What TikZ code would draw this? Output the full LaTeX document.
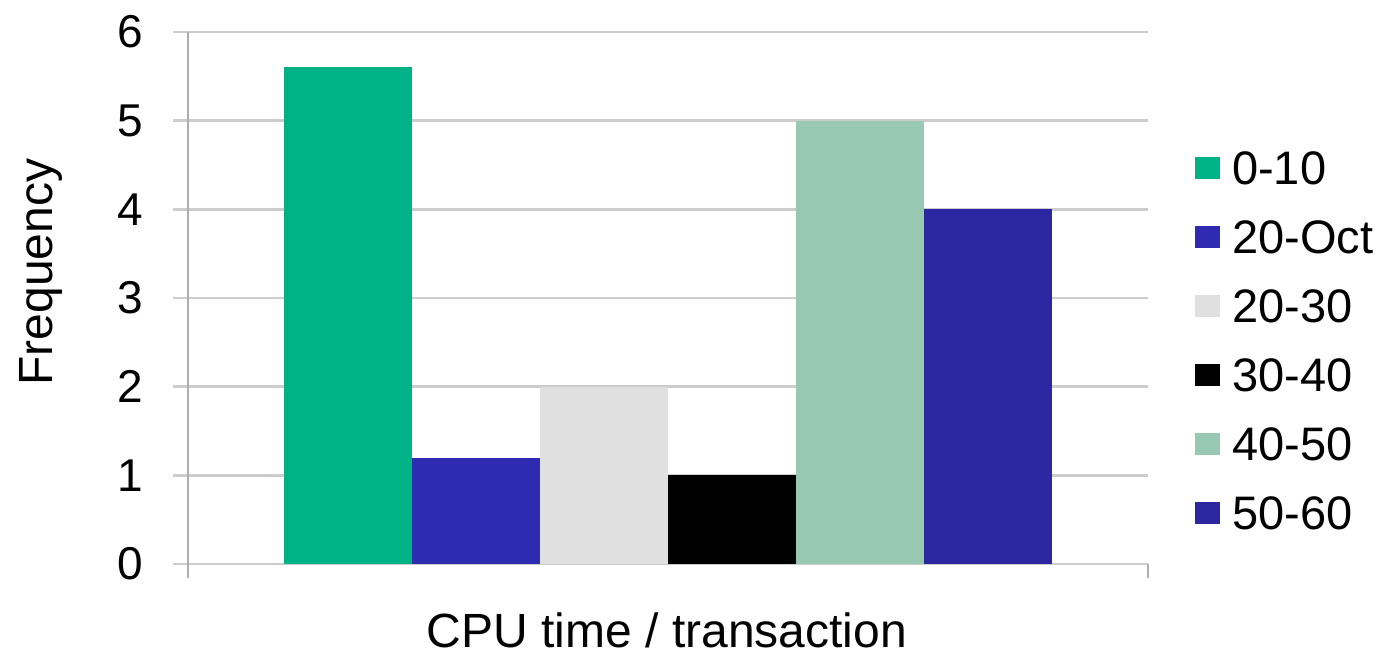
\documentclass[tikz,border=0pt]{standalone}
\usepackage{fontspec}
\setmainfont{Liberation Sans}
\definecolor{binA}{RGB}{0,179,134}
\definecolor{binB}{RGB}{46,43,178}
\definecolor{binC}{RGB}{224,224,224}
\definecolor{binD}{RGB}{0,0,0}
\definecolor{binE}{RGB}{152,200,178}
\definecolor{binF}{RGB}{42,39,160}
\definecolor{gridgray}{RGB}{205,205,205}
\tikzset{
  gridline/.style={draw=gridgray, line width=2.5pt},
  axisline/.style={draw=gridgray!85!black, line width=2pt},
  ticklabel/.style={anchor=east, inner sep=0pt, font=\fontsize{46}{52}\selectfont},
  legendtext/.style={anchor=west, inner sep=0pt, font=\fontsize{47}{52}\selectfont},
  titletext/.style={inner sep=0pt, font=\fontsize{48}{56}\selectfont},
  swatch/.style={minimum width=25pt, minimum height=22pt, inner sep=0pt, draw=none},
}
\begin{document}
\begin{tikzpicture}[x=1pt, y=-1pt]
  \useasboundingbox (0,0) rectangle (1382,656);
  % horizontal grid lines with tick labels
  \foreach \v in {0,...,6} {
    \pgfmathsetmacro{\yy}{564-\v*88.67}
    \draw[gridline] (173,\yy) -- (1148,\yy);
    \node[ticklabel] (tick\v) at (143,\yy) {\v};
  }
  % vertical axis and right end tick
  \draw[axisline] (188,32) -- (188,578);
  \draw[axisline] (1148,564) -- (1148,578);
  % bars
  \def\bar#1#2#3{\fill[#3] (#1,564) rectangle (#1+128,564-#2*88.67);}
  \bar{284}{5.6}{binA}
  \bar{412}{1.2}{binB}
  \bar{540}{2}{binC}
  \bar{668}{1}{binD}
  \bar{796}{5}{binE}
  \bar{924}{4}{binF}
  % legend
  \foreach \c/\t [count=\i from 0] in {binA/0-10, binB/20-Oct, binC/20-30, binD/30-40, binE/40-50, binF/50-60} {
    \node[swatch, fill=\c] (sw\i) at (1207.5,168+\i*69) {};
    \node[legendtext] (lg\i) at (1232,168+\i*69) {\t};
  }
  % axis titles
  \node[titletext, anchor=base] (xtitle) at (667,647) {CPU time / transaction};
  \node[titletext, rotate=90, anchor=base] (ytitle) at (52,272) {Frequency};
\end{tikzpicture}
\end{document}
